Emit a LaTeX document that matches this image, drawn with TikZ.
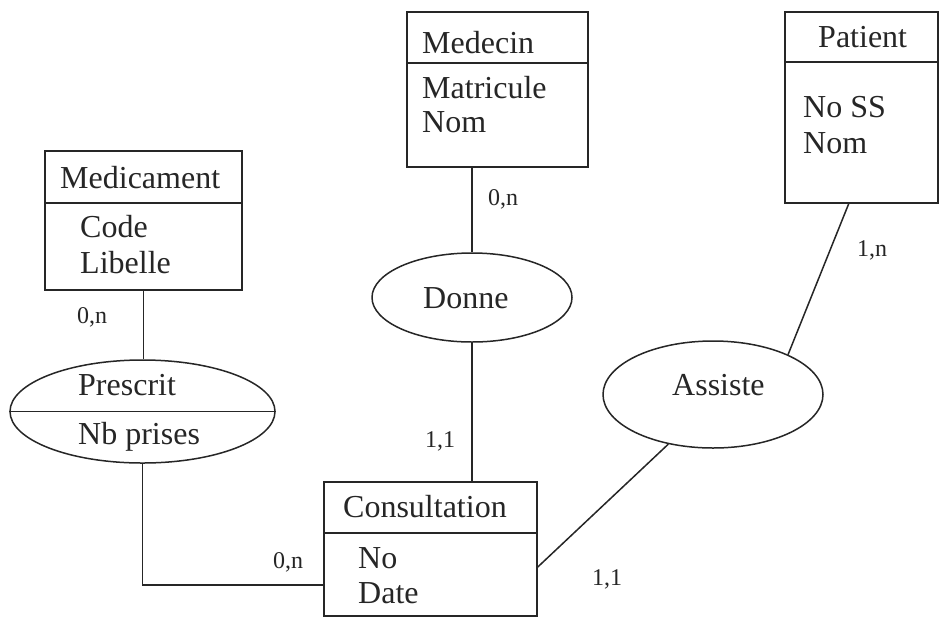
\documentclass[tikz,border=0pt]{standalone}
\usepackage{fontspec}
\setmainfont{Liberation Serif}
\usetikzlibrary{shapes.geometric}
\begin{document}
\begin{tikzpicture}[x=1pt,y=-1pt,
  ink/.style={draw=black!85, line width=1.5pt},
  entity/.style={ink, rectangle, inner sep=0pt},
  assoc/.style={ink, ellipse, inner sep=0pt},
  link/.style={draw=black!85, line width=1.5pt},
  txt/.style={anchor=base west, inner sep=0pt, font=\fontsize{32}{38}\selectfont, text=black!85},
  card/.style={anchor=base west, inner sep=0pt, font=\fontsize{24}{28}\selectfont, text=black!85}
]
\fill[white] (0,0) rectangle (941,619);
\useasboundingbox (0,0) rectangle (941,619);

% entities
\node[entity, minimum width=181pt, minimum height=155pt] (medecin) at (497.5,89.5) {};
\node[entity, minimum width=153pt, minimum height=191pt] (patient) at (861.5,107.5) {};
\node[entity, minimum width=197pt, minimum height=139pt] (medicament) at (143.5,220.5) {};
\node[entity, minimum width=213pt, minimum height=134pt] (consultation) at (430.5,549) {};

% header separators
\draw[link] (medecin.west |- 0,63) -- (medecin.east |- 0,63);
\draw[link] (patient.west |- 0,62) -- (patient.east |- 0,62);
\draw[link] (medicament.west |- 0,203) -- (medicament.east |- 0,203);
\draw[link] (consultation.west |- 0,533) -- (consultation.east |- 0,533);

% associations
\node[assoc, minimum width=200pt, minimum height=89pt] (donne) at (472,297.5) {};
\node[assoc, minimum width=265pt, minimum height=103pt] (prescrit) at (142.5,411.5) {};
\node[assoc, minimum width=220pt, minimum height=107pt] (assiste) at (713,394.5) {};
\draw[link] (prescrit.west) -- (prescrit.east);

% connectors
\coordinate (patfoot) at (849,203);
\draw[link] (donne.north |- medecin.south) -- (donne.north);
\draw[link] (donne.south) -- (donne.south |- consultation.north);
\draw[link] (medicament.south) -- (medicament.south |- prescrit.north);
\draw[link] (prescrit.south) |- (consultation.west |- 0,585);
\draw[link] (patfoot) -- (assiste.28);
\draw[link] (assiste.228) -- (consultation.east |- 0,567);

% entity texts
\node[txt] (medecin-t) at (422,53) {Medecin};
\node[txt] (medecin-a1) at (422,98) {Matricule};
\node[txt] (medecin-a2) at (422,132) {Nom};
\node[txt] (patient-t) at (818,47) {Patient};
\node[txt] (patient-a1) at (803,117) {No SS};
\node[txt] (patient-a2) at (803,153) {Nom};
\node[txt] (medicament-t) at (60,188) {Medicament};
\node[txt] (medicament-a1) at (80,237) {Code};
\node[txt] (medicament-a2) at (80,273) {Libelle};
\node[txt] (consultation-t) at (343,517) {Consultation};
\node[txt] (consultation-a1) at (358,568) {No};
\node[txt] (consultation-a2) at (358,603) {Date};

% association texts
\node[txt] (donne-t) at (423,308) {Donne};
\node[txt] (prescrit-t) at (78,395) {Prescrit};
\node[txt] (prescrit-a1) at (78,444) {Nb prises};
\node[txt] (assiste-t) at (672,395) {Assiste};

% cardinalities
\node[card] (c-medecin) at (488,205) {0,n};
\node[card] (c-patient) at (857,256) {1,n};
\node[card] (c-medicament) at (77,323) {0,n};
\node[card] (c-prescrit) at (273,568) {0,n};
\node[card] (c-donne) at (425,447) {1,1};
\node[card] (c-assiste) at (592,585) {1,1};
\end{tikzpicture}
\end{document}
